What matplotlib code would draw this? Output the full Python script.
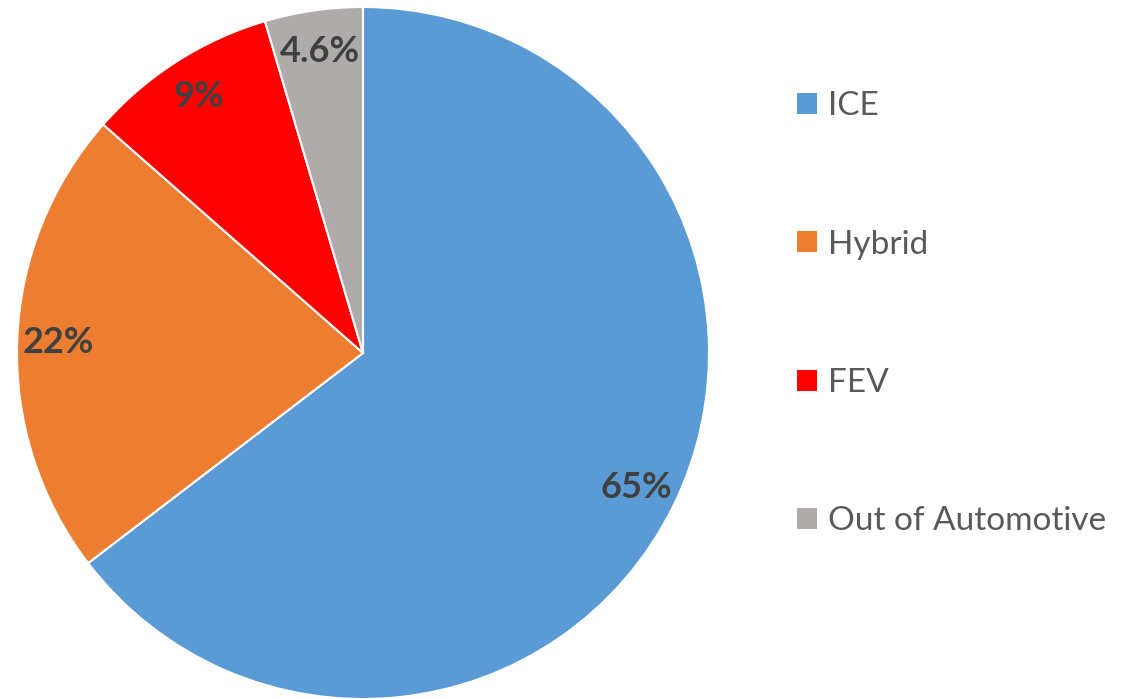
import matplotlib
matplotlib.use("Agg")
import matplotlib.pyplot as plt
from matplotlib.patches import Patch

categories = ["ICE", "Hybrid", "FEV", "Out of Automotive"]
values = [65, 22, 9, 4.6]
value_labels = ["65%", "22%", "9%", "4.6%"]
colors = ["#5B9BD5", "#ED7D31", "#FF0000", "#AFABAB"]

plt.rcParams['font.family'] = ['Lato', 'DejaVu Sans']

W, H = 1132, 699
fig = plt.figure(figsize=(W / 100, H / 100), dpi=100)
cx, cy, r = 363, 353, 346
ax = fig.add_axes([(cx - r) / W, 1 - (cy + r) / H, 2 * r / W, 2 * r / H])

it = iter(value_labels)
wedges, texts, autotexts = ax.pie(
    values, colors=colors, startangle=90, counterclock=False,
    autopct=lambda p: next(it), pctdistance=0.88, radius=1,
    wedgeprops=dict(edgecolor="white", linewidth=1.5),
    textprops=dict(fontsize=26, fontweight="bold", color="#404040"))
ax.set_xlim(-1, 1)
ax.set_ylim(-1, 1)
ax.set_aspect("equal")

fs = 24
fpx = fs * 100 / 72
handles = [Patch(facecolor=c, edgecolor="none") for c in colors]
fig.legend(handles, categories, loc="upper left",
           bbox_to_anchor=(797 / W, 1 - 91 / H), frameon=False,
           fontsize=fs, labelcolor="#595959", handlelength=20 / fpx,
           handleheight=20 / fpx, handletextpad=11 / fpx,
           labelspacing=(139.5 - 0.93 * fpx) / fpx, borderpad=0, borderaxespad=0)

fig.savefig("out.png", dpi=100)
